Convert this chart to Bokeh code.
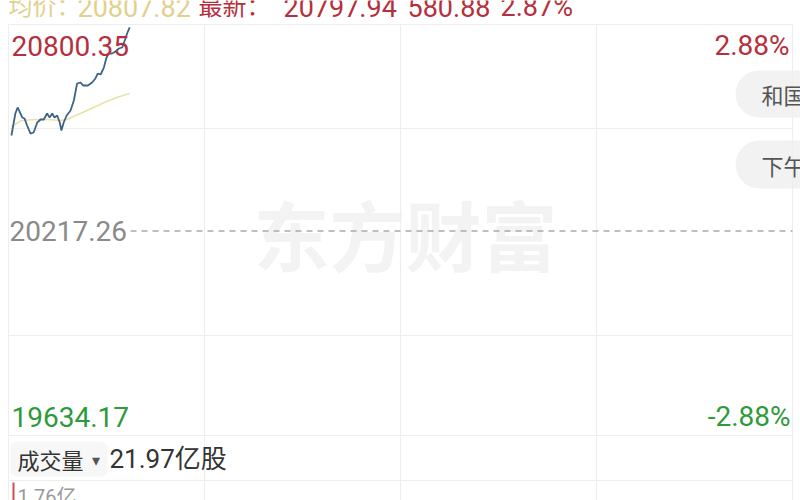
from bokeh.plotting import figure
from bokeh.models import Range1d, BoxAnnotation
from bokeh.core.properties import value
from bokeh.embed import file_html
from bokeh.resources import INLINE

# ---------------- data ----------------
prev_close = 20217.26
upper_price = 20800.35
lower_price = 19634.17
upper_pct = "2.88%"
lower_pct = "-2.88%"

minutes = [0.9, 2.1, 2.8, 3.5, 4.2, 4.9, 5.7, 6.7, 7.7, 8.8, 9.8, 10.8, 11.8, 12.6,
           13.4, 14.1, 14.9, 15.7, 16.2, 16.9, 17.8, 19.0, 20.0, 21.0, 22.0, 22.9,
           24.3, 25.6, 26.6, 27.3, 28.2, 29.2, 30.0, 30.7, 31.7, 32.8, 33.8, 34.8,
           35.8, 36.3, 37.1]
price = [20489.6, 20552.3, 20569.4, 20555.2, 20540.9, 20538.0, 20518.1, 20495.2,
         20498.1, 20526.6, 20535.2, 20535.2, 20552.3, 20540.9, 20552.3, 20540.9,
         20546.6, 20526.6, 20503.8, 20526.6, 20546.6, 20560.8, 20589.3, 20637.8,
         20640.7, 20632.1, 20632.1, 20640.7, 20652.1, 20666.3, 20663.5, 20683.4,
         20711.9, 20723.4, 20723.4, 20729.1, 20737.6, 20740.5, 20766.1, 20780.4,
         20797.94]
avg_minutes = [0.9, 4.0, 8.0, 12.0, 16.0, 17.8, 22.0, 26.0, 30.0, 34.0, 37.1]
avg_price = [20515.0, 20532.3, 20535.2, 20535.2, 20532.3, 20535.2, 20552.3,
             20569.4, 20586.5, 20600.8, 20609.3]

header_avg_label = "均价："
header_avg = "20807.82"
header_last_label = "最新："
header_last = "20797.94"
header_change = "580.88"
header_pct = "2.87%"

vol_label = "成交量"
vol_total = "21.97亿股"
vol_axis_label = "1.76亿"
time_ticks = [0, 60, 120, 180, 240]

# ---------------- layout helpers (page pixels -> data) ----------------
W, H = 800, 500
PPY = (upper_price - lower_price) / (435 - 26)


def X(px):  # page x -> minutes (chart spans x 8..792)
    return (px - 8) / 784 * 240


def Y(py):  # page y -> price
    return upper_price - (py - 26) * PPY


p = figure(width=W, height=H, output_backend="svg", toolbar_location=None,
           x_range=Range1d(X(0), X(W)), y_range=Range1d(Y(H), Y(0)),
           x_axis_location=None, y_axis_location=None, min_border=0,
           background_fill_color="white", border_fill_color="white")
p.outline_line_color = None
p.grid.visible = False

FONT = value("Roboto, 'Noto Sans CJK SC', sans-serif")
CJK = value("'Noto Sans CJK SC', Roboto, sans-serif")

# watermark
p.text(x=[X(405)], y=[Y(232)], text=["东方财富"], text_font=CJK, text_font_size="76px",
       text_font_style="bold", text_color="#f3f3f3", text_align="center",
       text_baseline="middle")

# grid lines
GRID = "#eeeeee"
for py in [24, 128, 335, 435, 480]:
    p.line(x=[X(8), X(792)], y=[Y(py), Y(py)], line_color=GRID, line_width=1.2)
p.segment(x0=time_ticks, x1=time_ticks, y0=[Y(24)] * 5, y1=[Y(H)] * 5,
          line_color=GRID, line_width=1.2)
p.line(x=[X(130), X(792)], y=[prev_close, prev_close], line_color="#aaaaaa",
       line_width=1.5, line_dash="6 5")

# price & average lines
p.line(x=avg_minutes, y=avg_price, line_color="#ebe2a6", line_width=1.6)
p.line(x=minutes, y=price, line_color="#3d6386", line_width=1.8)

# pills on the right
for top, bot, label in [(70, 117, "和国"), (140, 188, "下午")]:
    p.add_layout(BoxAnnotation(left=X(735), right=X(840), top=Y(top), bottom=Y(bot),
                               fill_color="#f2f2f2", fill_alpha=1, line_color=None,
                               border_radius=24, level="underlay"))
    p.text(x=[X(761)], y=[Y((top + bot) / 2)], text=[label], text_font=CJK,
           text_font_size="22px", text_color="#555555", text_baseline="middle")

# header (partially cut off at the top)
GOLD = "#e2d08e"
RED = "#b5303c"
hdr = [(8, header_avg_label, GOLD, "24px"), (77, header_avg, GOLD, "27px"),
       (198, header_last_label, RED, "24px"), (283, header_last, RED, "27px"),
       (407, header_change, RED, "27px"), (500, header_pct, RED, "27px")]
for hx, ht, hc, hs in hdr:
    p.text(x=[X(hx)], y=[Y(6)], text=[ht], text_font=FONT, text_font_size=hs,
           text_color=hc, text_baseline="alphabetic")

GREEN = "#2e9a3c"
GRAY = "#8a8a8a"
p.text(x=[X(11)], y=[upper_price], text=[f"{upper_price:.2f}"], text_font=FONT,
       text_font_size="28px", text_color=RED, text_baseline="middle", y_offset=19)
p.text(x=[X(789)], y=[upper_price], text=[upper_pct], text_font=FONT,
       text_font_size="28px", text_color=RED, text_baseline="middle",
       text_align="right", y_offset=19)
p.text(x=[X(9)], y=[prev_close], text=[f"{prev_close:.2f}"], text_font=FONT,
       text_font_size="28px", text_color=GRAY, text_baseline="middle")
p.text(x=[X(11)], y=[lower_price], text=[f"{lower_price:.2f}"], text_font=FONT,
       text_font_size="28px", text_color=GREEN, text_baseline="middle", y_offset=-19)
p.text(x=[X(790)], y=[lower_price], text=[lower_pct], text_font=FONT,
       text_font_size="28px", text_color=GREEN, text_baseline="middle",
       text_align="right", y_offset=-19)

# volume section
p.add_layout(BoxAnnotation(left=X(10), right=X(107), top=Y(441), bottom=Y(476),
                           fill_color="#f7f7f7", fill_alpha=1, line_color=None,
                           border_radius=6, level="underlay"))
p.text(x=[X(17)], y=[Y(458)], text=[vol_label], text_font=CJK, text_font_size="22px",
       text_color="#333333", text_baseline="middle")
p.text(x=[X(95)], y=[Y(458)], text=["▾"], text_font=CJK, text_font_size="16px",
       text_color="#555555", text_baseline="middle", text_align="center")
p.text(x=[X(109)], y=[Y(458)], text=[vol_total], text_font=FONT, text_font_size="26px",
       text_color="#333333", text_baseline="middle")
p.segment(x0=[X(13)], x1=[X(13)], y0=[Y(482)], y1=[Y(500)], line_color="#d05050",
          line_width=2)
p.text(x=[X(17)], y=[Y(496)], text=[vol_axis_label], text_font=FONT,
       text_font_size="20px", text_color="#999999", text_baseline="middle")

open("out.html", "w").write(file_html(p, INLINE))
